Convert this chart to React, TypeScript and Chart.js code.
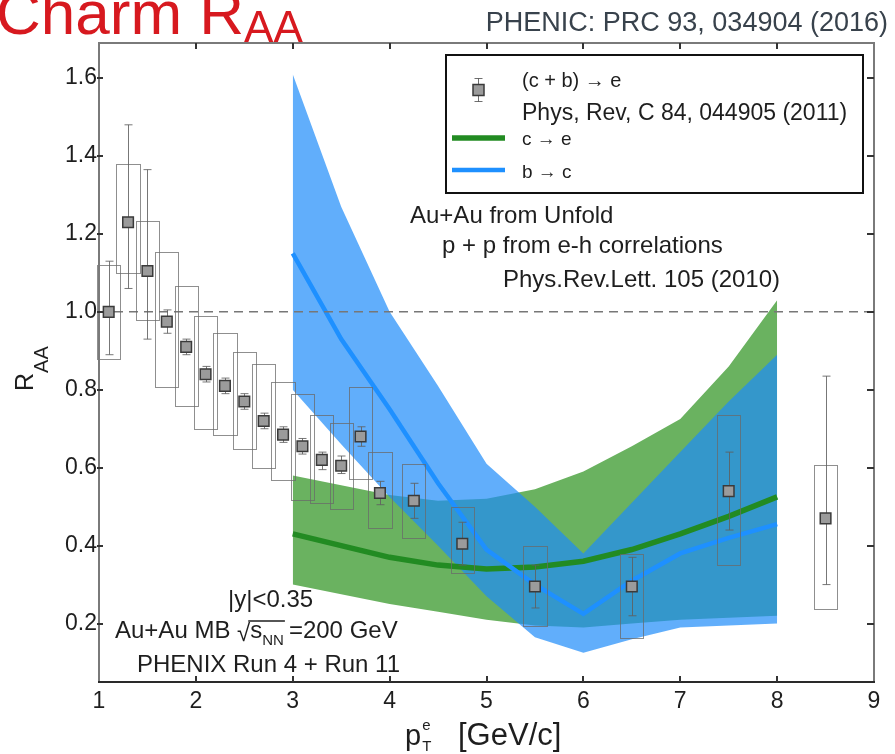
import React, { useEffect, useRef } from "react";
import { Chart, registerables } from "chart.js";

Chart.register(...registerables);

// ---- (c+b) -> e measurement (PHENIX) ----
const ptBins = [1.1, 1.3, 1.5, 1.7, 1.9, 2.1, 2.3, 2.5, 2.7, 2.9, 3.1, 3.3, 3.5, 3.7, 3.9, 4.25, 4.75, 5.5, 6.5, 7.5, 8.5];
const raaHF = [1.0, 1.23, 1.105, 0.975, 0.91, 0.84, 0.81, 0.77, 0.72, 0.685, 0.655, 0.62, 0.605, 0.68, 0.535, 0.515, 0.405, 0.295, 0.295, 0.54, 0.47];
const statLow = [0.89, 1.06, 0.93, 0.945, 0.89, 0.82, 0.79, 0.75, 0.70, 0.665, 0.635, 0.595, 0.585, 0.655, 0.505, 0.47, 0.35, 0.24, 0.22, 0.44, 0.30];
const statHigh = [1.13, 1.48, 1.365, 1.005, 0.93, 0.86, 0.83, 0.79, 0.74, 0.705, 0.675, 0.64, 0.63, 0.705, 0.565, 0.56, 0.46, 0.35, 0.37, 0.64, 0.835];
const sysLow = [0.88, 1.10, 0.98, 0.806, 0.758, 0.70, 0.684, 0.648, 0.60, 0.569, 0.518, 0.51, 0.495, 0.57, 0.445, 0.42, 0.33, 0.194, 0.163, 0.35, 0.237];
const sysHigh = [1.12, 1.38, 1.232, 1.153, 1.066, 0.99, 0.946, 0.898, 0.867, 0.819, 0.789, 0.735, 0.715, 0.806, 0.64, 0.61, 0.50, 0.40, 0.378, 0.735, 0.607];
const sysHalfWidth = 0.12;

// ---- unfolded c->e and b->e ----
const modelPt = [3, 3.5, 4, 4.5, 5, 5.5, 6, 6.5, 7, 7.5, 8];
const charmCentral = [0.43, 0.40, 0.37, 0.35, 0.34, 0.345, 0.36, 0.39, 0.43, 0.475, 0.525];
const charmUpper = [0.58, 0.555, 0.53, 0.515, 0.52, 0.545, 0.59, 0.655, 0.725, 0.86, 1.03];
const charmLower = [0.30, 0.275, 0.25, 0.23, 0.21, 0.195, 0.19, 0.20, 0.21, 0.215, 0.22];
const bottomCentral = [1.15, 0.93, 0.75, 0.56, 0.39, 0.30, 0.225, 0.31, 0.38, 0.42, 0.455];
const bottomUpper = [1.61, 1.27, 1.0, 0.81, 0.61, 0.50, 0.38, 0.51, 0.64, 0.77, 0.89];
const bottomLower = [0.80, 0.66, 0.525, 0.40, 0.27, 0.165, 0.125, 0.16, 0.19, 0.195, 0.20];

// ---- reference line and axes ----
const unityX = [1, 9];
const unityValue = 1.0;
const xRange = [1, 9];
const yRange = [0.05, 1.69];
const xStep = 1;
const yStep = 0.2;

const FONT = '"Liberation Sans", Arial, Helvetica, sans-serif';

function txt(ctx: CanvasRenderingContext2D, s: string, x: number, y: number, size: number, color = "#1e1e1e", align: CanvasTextAlign = "left") {
  ctx.font = `${size}px ${FONT}`;
  ctx.fillStyle = color;
  ctx.textAlign = align;
  ctx.textBaseline = "alphabetic";
  ctx.fillText(s, x, y);
  return ctx.measureText(s).width;
}

const overlayPlugin = {
  id: "raaOverlay",
  beforeDatasetDraw(chart: any, args: any) {
    if (args.index !== 0) return;
    const ctx: CanvasRenderingContext2D = chart.ctx;
    const xs = chart.scales.x;
    const ys = chart.scales.y;
    ctx.save();
    ctx.lineWidth = 1;
    ctx.strokeStyle = "rgba(105,105,105,0.75)";
    ptBins.forEach((pt, i) => {
      const l = Math.round(xs.getPixelForValue(pt - sysHalfWidth)) + 0.5;
      const r = Math.round(xs.getPixelForValue(pt + sysHalfWidth)) + 0.5;
      const t = Math.round(ys.getPixelForValue(sysHigh[i])) + 0.5;
      const b = Math.round(ys.getPixelForValue(sysLow[i])) + 0.5;
      ctx.strokeRect(l, t, r - l, b - t);
    });
    ctx.strokeStyle = "rgba(95,95,95,0.85)";
    ptBins.forEach((pt, i) => {
      const cx = Math.round(xs.getPixelForValue(pt)) + 0.5;
      const t = ys.getPixelForValue(statHigh[i]);
      const b = ys.getPixelForValue(statLow[i]);
      ctx.beginPath();
      ctx.moveTo(cx, t);
      ctx.lineTo(cx, b);
      ctx.moveTo(cx - 4, t);
      ctx.lineTo(cx + 4, t);
      ctx.moveTo(cx - 4, b);
      ctx.lineTo(cx + 4, b);
      ctx.stroke();
    });
    ctx.restore();
  },
  afterDraw(chart: any) {
    const ctx: CanvasRenderingContext2D = chart.ctx;
    const a = chart.chartArea;
    const xs = chart.scales.x;
    const ys = chart.scales.y;
    ctx.save();

    // frame
    ctx.lineWidth = 2;
    ctx.strokeStyle = "#7a7a7a";
    ctx.beginPath();
    ctx.moveTo(a.left, a.bottom);
    ctx.lineTo(a.left, a.top);
    ctx.lineTo(a.right, a.top);
    ctx.lineTo(a.right, a.bottom);
    ctx.stroke();
    ctx.strokeStyle = "#2a2a2a";
    ctx.beginPath();
    ctx.moveTo(a.left - 1, a.bottom);
    ctx.lineTo(a.right + 1, a.bottom);
    ctx.stroke();

    // inward ticks
    ctx.strokeStyle = "#333";
    ctx.lineWidth = 2;
    ctx.beginPath();
    xs.ticks.forEach((t: any) => {
      const px = Math.round(xs.getPixelForValue(t.value));
      if (px <= a.left + 2 || px >= a.right - 2) return;
      ctx.moveTo(px, a.top);
      ctx.lineTo(px, a.top + 6);
      ctx.moveTo(px, a.bottom);
      ctx.lineTo(px, a.bottom - 6);
    });
    ys.ticks.forEach((t: any) => {
      const py = Math.round(ys.getPixelForValue(t.value));
      ctx.moveTo(a.left - 2, py);
      ctx.lineTo(a.left + 4, py);
      ctx.moveTo(a.right, py);
      ctx.lineTo(a.right - 7, py);
    });
    ctx.stroke();

    // legend box
    ctx.fillStyle = "#fff";
    ctx.fillRect(446, 55, 417, 138);
    ctx.strokeStyle = "#111";
    ctx.lineWidth = 2;
    ctx.strokeRect(446, 55, 417, 138);
    // marker entry
    ctx.strokeStyle = "rgba(95,95,95,0.9)";
    ctx.lineWidth = 1;
    ctx.beginPath();
    ctx.moveTo(478.5, 78);
    ctx.lineTo(478.5, 102);
    ctx.moveTo(474.5, 78.5);
    ctx.lineTo(482.5, 78.5);
    ctx.moveTo(474.5, 101.5);
    ctx.lineTo(482.5, 101.5);
    ctx.stroke();
    ctx.fillStyle = "#9b9b9b";
    ctx.fillRect(473, 84.5, 11, 11);
    ctx.strokeStyle = "#3a3a3a";
    ctx.lineWidth = 1.5;
    ctx.strokeRect(473, 84.5, 11, 11);
    txt(ctx, "(c + b) \u2192 e", 522, 87, 20);
    txt(ctx, "Phys, Rev, C 84, 044905 (2011)", 522, 120, 23);
    ctx.lineCap = "butt";
    ctx.strokeStyle = "rgb(34,139,34)";
    ctx.lineWidth = 5.5;
    ctx.beginPath();
    ctx.moveTo(452, 138);
    ctx.lineTo(505, 138);
    ctx.stroke();
    txt(ctx, "c \u2192 e", 522, 145, 19);
    ctx.strokeStyle = "rgb(30,144,255)";
    ctx.lineWidth = 4.5;
    ctx.beginPath();
    ctx.moveTo(452, 170);
    ctx.lineTo(505, 170);
    ctx.stroke();
    txt(ctx, "b \u2192 c", 522, 178, 19);

    // annotations
    txt(ctx, "Au+Au from Unfold", 410, 223, 24);
    txt(ctx, "p + p from e-h correlations", 442, 253, 24);
    txt(ctx, "Phys.Rev.Lett. 105 (2010)", 503, 287, 24);

    txt(ctx, "|y|<0.35", 228, 607, 24);
    let cx = 115;
    cx += txt(ctx, "Au+Au MB ", cx, 638, 24);
    const sq = txt(ctx, "\u221A", cx, 641, 24);
    const sStart = cx + sq;
    const sw = txt(ctx, "s", sStart, 638, 24);
    const nw = txt(ctx, "NN", sStart + sw, 645, 15);
    const sEnd = sStart + sw + nw + 1;
    ctx.strokeStyle = "#1e1e1e";
    ctx.lineWidth = 1.5;
    ctx.beginPath();
    ctx.moveTo(sStart - 2, 621);
    ctx.lineTo(sEnd, 621);
    ctx.stroke();
    txt(ctx, "=200 GeV", sEnd + 4, 638, 24);
    txt(ctx, "PHENIX Run 4 + Run 11", 137, 672, 24);

    // axis titles
    let px = 405;
    px += txt(ctx, "p", px, 745, 29);
    txt(ctx, "T", px + 1, 751, 15);
    txt(ctx, "e", px + 1, 730, 15);
    txt(ctx, "[GeV/c]", 458, 745, 31);

    ctx.save();
    ctx.translate(33, 391);
    ctx.rotate(-Math.PI / 2);
    const rw = txt(ctx, "R", 0, 0, 25);
    txt(ctx, "AA", rw, 15, 20);
    ctx.restore();

    // header
    const tw = txt(ctx, "Charm R", -4, 34, 62, "#d7191f");
    txt(ctx, "AA", -4 + tw, 42, 44, "#d7191f");
    txt(ctx, "PHENIC: PRC 93, 034904 (2016)", 888, 31, 27, "#38424c", "right");

    ctx.restore();
  },
};

export default function App() {
  const ref = useRef<HTMLCanvasElement>(null);
  useEffect(() => {
    const canvas = ref.current;
    if (!canvas) return;
    const toXY = (ys: number[]) => modelPt.map((x, i) => ({ x, y: ys[i] }));
    const hfPoints = ptBins.map((x, i) => ({ x, y: raaHF[i] }));
    const bandEdge = { borderColor: "rgba(0,0,0,0)", borderWidth: 0, pointRadius: 0 };
    const chart = new Chart(canvas, {
      type: "line",
      data: {
        datasets: [
          {
            label: "(c+b)\u2192e",
            data: hfPoints,
            showLine: false,
            pointStyle: "rect",
            pointRadius: 7.5,
            pointBackgroundColor: "#9b9b9b",
            pointBorderColor: "#3a3a3a",
            pointBorderWidth: 1.5,
            order: 0,
          },
          {
            label: "unity",
            data: unityX.map((x) => ({ x, y: unityValue })),
            borderColor: "#777",
            borderWidth: 1.5,
            borderDash: [9, 6],
            pointRadius: 0,
            order: 1,
          },
          {
            label: "b\u2192e",
            data: toXY(bottomCentral),
            borderColor: "rgb(30,144,255)",
            borderWidth: 4.5,
            pointRadius: 0,
            order: 2,
          },
          {
            label: "c\u2192e",
            data: toXY(charmCentral),
            borderColor: "rgb(34,139,34)",
            borderWidth: 5.5,
            pointRadius: 0,
            order: 3,
          },
          { label: "b upper", data: toXY(bottomUpper), ...bandEdge, fill: "+1", backgroundColor: "rgba(30,140,250,0.7)", order: 4 },
          { label: "b lower", data: toXY(bottomLower), ...bandEdge, fill: false, order: 4 },
          { label: "c upper", data: toXY(charmUpper), ...bandEdge, fill: "+1", backgroundColor: "rgb(106,178,96)", order: 6 },
          { label: "c lower", data: toXY(charmLower), ...bandEdge, fill: false, order: 6 },
        ] as any,
      },
      options: {
        responsive: false,
        animation: false,
        devicePixelRatio: 1,
        layout: { padding: { top: 43, right: 21, left: 0, bottom: 0 } },
        plugins: { legend: { display: false }, tooltip: { enabled: false } },
        scales: {
          x: {
            type: "linear",
            min: xRange[0],
            max: xRange[1],
            grid: { display: false, drawTicks: false },
            border: { display: false },
            ticks: {
              stepSize: xStep,
              padding: 6,
              autoSkip: false,
              maxRotation: 0,
              color: "#1e1e1e",
              font: { family: FONT, size: 23 },
              callback: (v: any) => String(v),
            },
            afterFit: (s: any) => {
              s.height = 72;
            },
          },
          y: {
            type: "linear",
            min: yRange[0],
            max: yRange[1],
            grid: { display: false, drawTicks: false },
            border: { display: false },
            ticks: {
              stepSize: yStep,
              includeBounds: false,
              padding: 2,
              color: "#1e1e1e",
              font: { family: FONT, size: 23 },
              callback: (v: any) => Number(v).toFixed(1),
            },
            afterFit: (s: any) => {
              s.width = 99;
            },
          },
        },
      } as any,
      plugins: [overlayPlugin],
    });
    return () => chart.destroy();
  }, []);
  return (
    <div style={{ position: "fixed", left: 0, top: 0, width: 895, height: 754, background: "#fff" }}>
      <canvas ref={ref} width={895} height={754} style={{ display: "block", width: 895, height: 754 }} />
    </div>
  );
}
